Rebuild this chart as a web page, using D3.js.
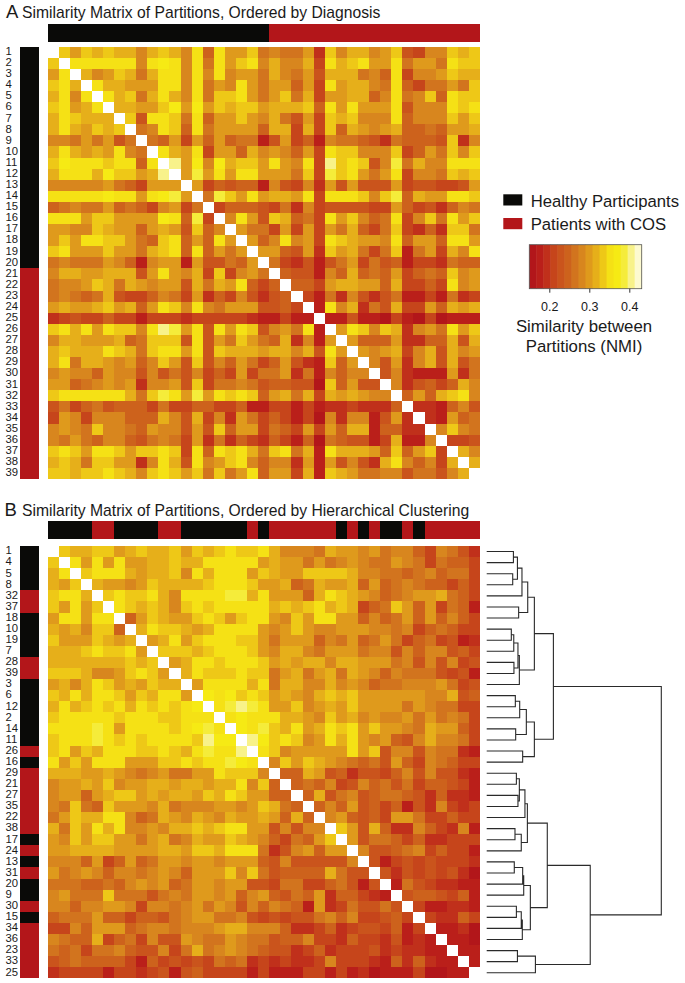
<!DOCTYPE html>
<html>
<head>
<meta charset="utf-8">
<title>Similarity Matrix of Partitions</title>
<script src="https://cdn.jsdelivr.net/npm/d3@7"></script>
<style>
  body { margin: 0; background: #fff; }
  text { font-family: "Liberation Sans", Arial, sans-serif; fill: #1a1a1a; }
</style>
</head>
<body>
<div id="chart"></div>
<script>
// participants in diagnosis order (1-20 healthy, 21-39 COS)
const diagnosisOrder = [1,2,3,4,5,6,7,8,9,10,11,12,13,14,15,16,17,18,19,20,21,22,23,24,25,26,27,28,29,30,31,32,33,34,35,36,37,38,39];
const clusterOrder = [1,4,5,8,32,37,18,10,19,7,28,39,3,6,12,2,14,11,26,16,29,21,27,35,22,38,17,24,13,31,20,9,30,15,34,36,23,33,25];
const healthy = [1,2,3,4,5,6,7,8,9,10,11,12,13,14,15,16,17,18,19,20];

// NMI, one colour bin per hex digit
const nmiLevels = [0.159,0.177,0.194,0.212,0.229,0.247,0.265,0.282,0.300,0.317,0.335,0.352,0.370,0.388,0.405,0.423];

// upper triangle of the matrix: row i holds columns i+1..39
const upperRows = [
  "a8a9a9979a97b5b88a676682a79978a4377a9a",
  "bbbbbb7bcb7b6b8ab797793b9ab88b6886baa",
  "978a969bb7b7b788697684999675b3778a99",
  "b99888bb7b687b8688583b89976b536686a",
  "b9a69b97b6aab868a693889957b67a5baa",
  "9988ac8c8a9aa8999a5b8b888b4777bab",
  "a4bba6b588a8796483a9a777b5777a8a",
  "67ba5b68888599393a5987895565889",
  "658385856614835176654265554a27",
  "b98b38859787583baa777a3586a7a",
  "e8c7c9aa8b87b3eaba47d6977bbb",
  "8d8b8bb8886a3dab868b3776a9a",
  "83545517437284844483443348",
  "6da8b8998b3bbba7ad5988bba",
  "355543627344443385342576",
  "7b84a9563b8a756b37a6b8a",
  "86638383869536a3252aa6",
  "857b783ba9887b5885bb8",
  "885482a89636a168397b",
  "6324146836451332655",
  "544175956583565a78",
  "55389988593353b78",
  "3162742461131623",
  "1b7926493385989",
  "11411031030111",
  "8ba7a92786b8a",
  "855582255949",
  "87893794978",
  "7482794946",
  "472111826",
  "72453597",
  "5859ab7",
  "221574",
  "21856",
  "7a76",
  "334",
  "97",
  "9"
];

const heatColors = ["#B2161A","#BA1F1A","#C0301B","#C6451B","#CA541C","#CD621C","#D2741E","#D8861E","#DF9A1C","#E6AF1A","#EEC817","#F5E115","#F6EA14","#F5EC3A","#F8F28A","#FDFAD0"];
const BLACK = "#0a0a08", RED = "#B3161A";

// dendrogram of panel B: [height, left, right], leaves are participants
const dendrogram = [100,
  [38.2,
    [27.3,
      [23.5,
        [20.2, [17.6, [15.3, 1, 4], [14.9, 5, 8]], 32],
        [18.3, 37, 18]],
      [18.7,
        [17.9, [15.5, [14.1, 10, 19], 7], [15.6, 28, 39]],
        3]],
    [27.3,
      [22.7,
        [18.9, [16.4, 6, 12], 2],
        [16.6, 14, 11]],
      [20.6, 26, 16]]],
  [59.3,
    [34.7,
      [23.3,
        [21.9, [18.7, [17.0, 29, 21], [17.9, 27, 35]], 22],
        [19.8, [16.2, 38, 17], 24]],
      [25.0,
        [21.2, [20.6, [15.8, 13, 31], 20], 9],
        [20.4, [19.8, [17.0, 30, 15], 34], 36]]],
    [27.9, [17.6, 23, 33], 25]]
];

const W = 685, H = 983;
const svg = d3.select("#chart").append("svg")
  .attr("width", W).attr("height", H).style("display", "block");

// ── colour scale ──
const color = d3.scaleQuantize().domain([0.15, 0.431]).range(heatColors);

function nmi(a, b) {
  if (a === b) return null;
  const i = Math.min(a, b), j = Math.max(a, b);
  return nmiLevels[parseInt(upperRows[i - 1][j - i - 1], 16)];
}

function groupColor(id) { return healthy.includes(id) ? BLACK : RED; }

// one panel: title, top and side bars, labels, matrix
function drawPanel(order, letter, title, top, barTop, letterX, titleBase) {
  const x = d3.scaleBand().domain(order).range([47.5, 480]);
  const y = d3.scaleBand().domain(order).range([top, top + 432.3]);
  const g = svg.append("g");

  g.append("text").attr("x", letterX).attr("y", titleBase)
    .style("font-size", "18.5px").text(letter);
  g.append("text").attr("x", 22).attr("y", titleBase)
    .style("font-size", "15.7px").text(title);

  g.selectAll(".top").data(order).enter().append("rect")
    .attr("x", d => x(d)).attr("y", barTop)
    .attr("width", x.bandwidth()).attr("height", 18.4)
    .attr("fill", groupColor).attr("shape-rendering", "crispEdges");

  g.selectAll(".side").data(order).enter().append("rect")
    .attr("x", 20.3).attr("y", d => y(d))
    .attr("width", 18.4).attr("height", y.bandwidth())
    .attr("fill", groupColor).attr("shape-rendering", "crispEdges");

  g.selectAll(".lab").data(order).enter().append("text")
    .attr("x", 5.5).attr("y", d => y(d) + y.bandwidth() / 2 + 2.8)
    .style("font-size", "11.3px").text(d => d);

  const cells = d3.cross(order, order).map(([r, c]) => ({ r, c, v: nmi(r, c) }));
  g.selectAll(".cell").data(cells).enter().append("rect")
    .attr("x", d => x(d.c)).attr("y", d => y(d.r))
    .attr("width", x.bandwidth()).attr("height", y.bandwidth())
    .attr("fill", d => d.v === null ? "#fff" : color(d.v))
    .attr("shape-rendering", "crispEdges");

  return y;
}

drawPanel(diagnosisOrder, "A", "Similarity Matrix of Partitions, Ordered by Diagnosis", 46.7, 23.5, 6, 18);
const yB = drawPanel(clusterOrder, "B", "Similarity Matrix of Partitions, Ordered by Hierarchical Clustering", 546, 521, 4.5, 516);

// ── dendrogram ──
const root = d3.hierarchy(dendrogram, d => Array.isArray(d) ? d.slice(1) : null);
const xDist = d3.scaleLinear().domain([0, 100]).range([486.7, 661.3]);
const leafY = d => yB(d) + yB.bandwidth() / 2;

root.eachAfter(n => {
  if (n.children) {
    n.px = xDist(n.data[0]);
    n.py = (n.children[0].py + n.children[1].py) / 2;
  } else {
    n.px = xDist(0);
    n.py = leafY(n.data);
  }
});

const links = root.links().map(l =>
  `M${l.source.px},${l.source.py}V${l.target.py}H${l.target.px}`);
svg.append("path").attr("d", links.join(""))
  .attr("fill", "none").attr("stroke", "#2a2a2a").attr("stroke-width", 1.1);

// ── legend ──
const legendX = d3.scaleLinear().domain([0.15, 0.431]).range([529.3, 641.7]);
const legend = svg.append("g");

[["Healthy Participants", BLACK, 194.3, 206.7], ["Patients with COS", RED, 218, 230.2]].forEach(row => {
  legend.append("rect").attr("x", 503.3).attr("y", row[2])
    .attr("width", 19).attr("height", 11.2).attr("fill", row[1]);
  legend.append("text").attr("x", 530.7).attr("y", row[3])
    .style("font-size", "16.7px").text(row[0]);
});

legend.selectAll(".bin").data(heatColors).enter().append("rect")
  .attr("x", d => legendX(color.invertExtent(d)[0]))
  .attr("y", 244.7)
  .attr("width", d => legendX(color.invertExtent(d)[1]) - legendX(color.invertExtent(d)[0]) + 0.5)
  .attr("height", 44)
  .attr("fill", d => d);

legend.append("rect").attr("x", 529.3).attr("y", 244.7)
  .attr("width", 112.4).attr("height", 44)
  .attr("fill", "none").attr("stroke", "#555").attr("stroke-width", 0.8);

const legendAxis = legend.append("g").attr("transform", "translate(0,288.7)")
  .call(d3.axisBottom(legendX).tickValues([0.2, 0.3, 0.4]).tickSize(4).tickPadding(9).tickFormat(d3.format(".1f")));
legendAxis.select(".domain").remove();
legendAxis.selectAll("line").attr("stroke", "#333");
legendAxis.selectAll("text").style("font-size", "12.5px").style("font-family", '"Liberation Sans", Arial, sans-serif').attr("fill", "#1a1a1a");

legend.append("text").attr("x", 584).attr("y", 332).attr("text-anchor", "middle")
  .style("font-size", "16.8px").text("Similarity between");
legend.append("text").attr("x", 584).attr("y", 352).attr("text-anchor", "middle")
  .style("font-size", "16.8px").text("Partitions (NMI)");
</script>
</body>
</html>
